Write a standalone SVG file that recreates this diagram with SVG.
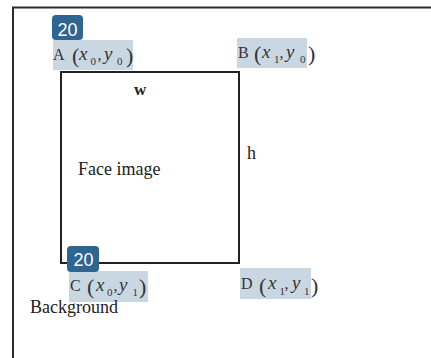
<svg xmlns="http://www.w3.org/2000/svg" width="431" height="358" viewBox="0 0 431 358">
<style>
.frame{fill:#fff;stroke:#2b2b2b;stroke-width:2}
.box{fill:#fff;stroke:#222;stroke-width:2}
.hl{fill:#c9d7e3}
.badge{fill:#2e6591}
.bt{font-family:"Liberation Sans",Arial,sans-serif;font-size:18px;fill:#fff;text-anchor:middle}
.t{font-family:"Liberation Serif","Times New Roman",serif;fill:#222}
.lab{font-family:"Liberation Serif","Times New Roman",serif;fill:#333;font-size:16px}
.it{font-style:italic;font-size:19px}
.sub{font-size:11px}
.par{font-size:22px}
</style>
<rect width="431" height="358" fill="#fff"/>
<g id="frame">
<rect class="frame" x="13" y="7.5" width="440" height="400"/>
</g>
<g id="face-image">
<rect class="box" x="61" y="72" width="178" height="191"/>
<text class="t" x="78" y="175" font-size="18">Face image</text>
<text class="t" x="134" y="95" font-size="17" font-weight="bold">w</text>
<text class="t" x="247" y="159" font-size="18">h</text>
</g>
<g id="label-A">
<rect class="hl" x="53" y="40" width="80" height="30"/>
<text class="lab"><tspan x="53" y="59.5">A</tspan><tspan class="par" x="72" y="63">(</tspan><tspan class="it" x="79" y="59.5">x</tspan><tspan class="sub" x="90.5" y="65">0</tspan><tspan x="97.5" y="59.5">,</tspan><tspan class="it" x="104" y="59.5">y</tspan><tspan class="sub" x="117" y="65">0</tspan><tspan class="par" x="126" y="63">)</tspan></text>
</g>
<g id="label-B">
<rect class="hl" x="237" y="38" width="70" height="30"/>
<text class="lab"><tspan x="238" y="57.5">B</tspan><tspan class="par" x="254" y="61">(</tspan><tspan class="it" x="262" y="57.5">x</tspan><tspan class="sub" x="274" y="63">1</tspan><tspan x="279.5" y="57.5">,</tspan><tspan class="it" x="286" y="57.5">y</tspan><tspan class="sub" x="300" y="63">0</tspan><tspan class="par" x="308" y="61">)</tspan></text>
</g>
<g id="label-C">
<rect class="hl" x="69" y="271" width="79" height="31"/>
<text class="lab"><tspan x="70" y="291">C</tspan><tspan class="par" x="87" y="293.5">(</tspan><tspan class="it" x="96" y="291">x</tspan><tspan class="sub" x="107" y="295.5">0</tspan><tspan x="113.5" y="291">,</tspan><tspan class="it" x="119" y="291">y</tspan><tspan class="sub" x="132.5" y="295.5">1</tspan><tspan class="par" x="139" y="293.5">)</tspan></text>
</g>
<g id="label-D">
<rect class="hl" x="240" y="268" width="71" height="31"/>
<text class="lab"><tspan x="241" y="289">D</tspan><tspan class="par" x="259" y="292.5">(</tspan><tspan class="it" x="268" y="289">x</tspan><tspan class="sub" x="279.5" y="294.5">1</tspan><tspan x="284.5" y="289">,</tspan><tspan class="it" x="292" y="289">y</tspan><tspan class="sub" x="304" y="294.5">1</tspan><tspan class="par" x="311" y="292.5">)</tspan></text>
</g>
<g id="background-label">
<text class="t" x="30" y="312.5" font-size="18">Background</text>
</g>
<g id="badge-1">
<rect class="badge" x="52" y="15" width="31" height="25" rx="4"/>
<text class="bt" x="67.5" y="36">20</text>
</g>
<g id="badge-2">
<rect class="badge" x="67" y="246" width="32" height="26" rx="4"/>
<text class="bt" x="83.5" y="266">20</text>
</g>
<g id="connectors"/>
</svg>
